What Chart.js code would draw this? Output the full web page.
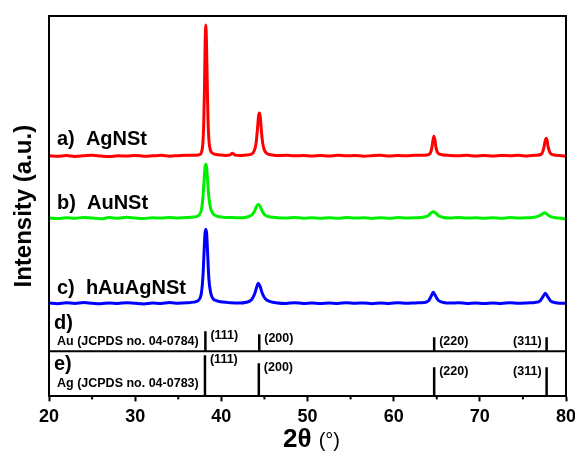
<!DOCTYPE html>
<html>
<head>
<meta charset="utf-8">
<script src="https://cdn.jsdelivr.net/npm/chart.js@4"></script>
<style>
  body { margin: 0; background: #fff; }
  #wrap { width: 575px; height: 452px; }
</style>
</head>
<body>
<div id="wrap"><canvas id="xrdChart" width="575" height="452"></canvas></div>
<script>
// 2theta / intensity (a.u., curves already offset)
const agX = [20, 21, 22, 23, 24, 25, 26, 27, 28, 29, 30, 31, 32, 33, 34, 35, 36, 37, 37.5, 37.7, 37.85, 37.95, 38.05, 38.12, 38.2, 38.28, 38.36, 38.45, 38.55, 38.7, 38.9, 39.2, 39.8, 40.5, 41.0, 41.3, 41.6, 42.2, 42.9, 43.5, 43.85, 44.05, 44.2, 44.32, 44.42, 44.52, 44.64, 44.8, 45.0, 45.3, 45.9, 46.5, 47.5, 48.5, 49.5, 50.5, 51.5, 52.5, 53.5, 54.5, 55.5, 56.5, 57.5, 58.5, 59.5, 60.5, 61.5, 62.5, 63.5, 64.15, 64.4, 64.55, 64.67, 64.77, 64.9, 65.1, 65.6, 66.5, 67.5, 68.5, 69.5, 70.5, 71.5, 72.5, 73.5, 74.5, 75.5, 76.5, 77.15, 77.42, 77.58, 77.7, 77.8, 77.93, 78.15, 78.6, 79.3, 80];
const agY = [240.5, 239.8, 240.6, 239.7, 240.3, 240.9, 240.2, 239.6, 240.4, 240.1, 240.7, 239.9, 240.3, 240.8, 240.0, 240.5, 240.9, 241.0, 241.5, 244, 252, 270, 310, 352, 371, 352, 315, 278, 257, 247, 243.5, 242, 241.2, 240.6, 241.2, 243, 241, 240.7, 241.2, 242, 246, 254, 268, 280, 283, 279, 266, 253, 246, 242.5, 241.2, 240.6, 240.9, 240.3, 240.7, 240.1, 240.6, 240.2, 240.8, 240.3, 240.6, 240.0, 240.5, 240.8, 240.2, 240.6, 240.3, 240.8, 240.9, 242, 247, 255, 260, 257, 249, 243.5, 241.4, 240.7, 240.3, 240.8, 240.2, 240.6, 240.1, 240.7, 240.4, 240.8, 240.2, 240.9, 242, 248, 255, 258, 256, 249, 243.5, 241.2, 240.6, 239.8];

const auX = [20, 21, 22, 23, 24, 25, 26, 27, 28, 29, 30, 31, 32, 33, 34, 35, 36, 36.8, 37.4, 37.7, 37.88, 38.0, 38.1, 38.2, 38.3, 38.42, 38.55, 38.75, 39.0, 39.5, 40.2, 41, 42, 42.9, 43.5, 43.85, 44.1, 44.3, 44.5, 44.75, 45.1, 45.7, 46.5, 47.5, 48.5, 49.5, 50.5, 51.5, 52.5, 53.5, 54.5, 55.5, 56.5, 57.5, 58.5, 59.5, 60.5, 61.5, 62.5, 63.4, 64.0, 64.3, 64.6, 64.9, 65.2, 65.8, 66.5, 67.5, 68.5, 69.5, 70.5, 71.5, 72.5, 73.5, 74.5, 75.5, 76.3, 76.9, 77.3, 77.55, 77.8, 78.2, 78.8, 79.4, 80];
const auY = [178.4, 177.6, 178.5, 177.9, 178.8, 178.1, 177.5, 178.6, 178.0, 178.9, 178.2, 177.7, 178.5, 178.1, 178.8, 178.3, 178.6, 179.2, 181, 187, 200, 216, 228, 232, 228, 214, 199, 188, 183, 180, 179, 178.7, 178.4, 179, 181, 185, 190, 192, 190, 185, 181, 179.2, 178.5, 178.1, 178.7, 178.0, 178.5, 177.9, 178.4, 178.0, 178.6, 178.1, 178.5, 177.8, 178.4, 178.0, 178.6, 178.2, 178.5, 179, 180.5, 183, 184.5, 183, 180.5, 178.8, 178.3, 178.7, 178.1, 178.5, 177.9, 178.4, 178.0, 178.6, 178.2, 178.5, 178.9, 180.3, 182.5, 183.5, 182, 179.5, 178.5, 178, 177.2];

const auAgX = [20, 21, 22, 23, 24, 25, 26, 27, 28, 29, 30, 31, 32, 33, 34, 35, 36, 36.8, 37.4, 37.7, 37.88, 38.0, 38.1, 38.2, 38.3, 38.42, 38.55, 38.75, 39.0, 39.5, 40.2, 41, 42, 42.9, 43.5, 43.85, 44.1, 44.3, 44.5, 44.75, 45.1, 45.7, 46.5, 47.5, 48.5, 49.5, 50.5, 51.5, 52.5, 53.5, 54.5, 55.5, 56.5, 57.5, 58.5, 59.5, 60.5, 61.5, 62.5, 63.5, 64.05, 64.35, 64.6, 64.85, 65.2, 65.8, 66.5, 67.5, 68.5, 69.5, 70.5, 71.5, 72.5, 73.5, 74.5, 75.5, 76.4, 77.0, 77.35, 77.6, 77.85, 78.2, 78.8, 79.4, 80];
const auAgY = [93.3, 92.6, 93.5, 92.9, 93.8, 93.1, 92.5, 93.4, 92.8, 93.6, 93.0, 92.4, 93.3, 92.9, 93.7, 93.1, 93.5, 94.2, 96.5, 104, 122, 145, 162, 167, 162, 141, 118, 104, 98, 95.5, 94.2, 93.6, 93.2, 94, 96.5, 102, 109, 113, 110, 103, 97.5, 94.6, 93.4, 92.9, 93.6, 92.8, 93.4, 92.7, 93.3, 92.9, 93.6, 93.0, 93.4, 92.6, 93.3, 92.9, 93.5, 93.0, 93.4, 93.8, 95.5, 100, 104, 100.5, 95.8, 93.8, 93.2, 93.6, 92.9, 93.4, 92.8, 93.3, 92.9, 93.5, 93.0, 93.4, 93.9, 95.5, 100, 103, 100, 95.5, 93.6, 93.1, 92.9];

// reference patterns (stick lines)
const hklLabels = ['(111)', '(200)', '(220)', '(311)'];
const auRefPos = [38.15, 44.4, 64.7, 77.75];
const auRefInt = [20, 17, 14, 14];
const agRefPos = [38.1, 44.35, 64.7, 77.75];
const agRefInt = [41, 33, 29, 29];
const auRefBase = 45;
const agRefBase = 0;

const xTicks = [20, 30, 40, 50, 60, 70, 80];
const xMinorTicks = [25, 35, 45, 55, 65, 75];

function toPoints(xs, ys) {
    return xs.map((x, i) => ({ x: x, y: ys[i] }));
}

function stickPoints(pos, ints, base) {
    const pts = [];
    pos.forEach((p, i) => {
        pts.push({ x: p, y: base });
        pts.push({ x: p, y: base + ints[i] });
        pts.push({ x: p, y: null });
    });
    return pts;
}

const FONT = '"Liberation Sans", Arial, sans-serif';

const labelsPlugin = {
    id: 'labels',
    afterDraw(chart) {
        const { ctx, chartArea: a, scales: { x, y } } = chart;
        ctx.save();
        // frame
        ctx.strokeStyle = '#000';
        ctx.lineWidth = 2;
        ctx.beginPath();
        ctx.moveTo(a.left, a.bottom);
        ctx.lineTo(a.left, a.top);
        ctx.lineTo(a.right, a.top);
        ctx.lineTo(a.right, a.bottom);
        ctx.stroke();

        // minor ticks
        xMinorTicks.forEach(v => {
            const px = x.getPixelForValue(v);
            ctx.beginPath();
            ctx.moveTo(px, a.bottom);
            ctx.lineTo(px, a.bottom + 3);
            ctx.stroke();
        });

        ctx.fillStyle = '#000';
        ctx.textBaseline = 'middle';
        ctx.textAlign = 'left';
        const lx = a.left + 8;
        ctx.font = 'bold 20px ' + FONT;
        ctx.fillText('a)  AgNSt', lx, y.getPixelForValue(257));
        ctx.fillText('b)  AuNSt', lx, y.getPixelForValue(193));
        ctx.fillText('c)  hAuAgNSt', lx, y.getPixelForValue(108));
        ctx.font = 'bold 20px ' + FONT;
        ctx.fillText('d)', a.left + 5, y.getPixelForValue(73));
        ctx.fillText('e)', a.left + 5, y.getPixelForValue(32));
        ctx.font = 'bold 12.5px ' + FONT;
        ctx.fillText('Au (JCPDS no. 04-0784)', lx, y.getPixelForValue(55));
        ctx.fillText('Ag (JCPDS no. 04-0783)', lx, y.getPixelForValue(13));

        // hkl labels
        ctx.font = 'bold 12.5px ' + FONT;
        ctx.textBaseline = 'top';
        [[auRefPos, auRefInt, auRefBase], [agRefPos, agRefInt, agRefBase]].forEach(([pos, ints, base]) => {
            pos.forEach((p, i) => {
                const px = x.getPixelForValue(p);
                const py = y.getPixelForValue(base + ints[i]) - 2;
                if (i === 3) {
                    ctx.textAlign = 'right';
                    ctx.fillText(hklLabels[i], px - 5, py);
                } else {
                    ctx.textAlign = 'left';
                    ctx.fillText(hklLabels[i], px + 5, py);
                }
            });
        });

        // axis titles
        ctx.textBaseline = 'middle';
        ctx.textAlign = 'left';
        const cx = (a.left + a.right) / 2;
        ctx.font = 'bold 26px ' + FONT;
        const w1 = ctx.measureText('2θ ').width;
        ctx.font = '20px ' + FONT;
        const w2 = ctx.measureText('(°)').width;
        const sx = cx - (w1 + w2) / 2 + 4;
        ctx.font = 'bold 26px ' + FONT;
        ctx.fillText('2θ ', sx, 440);
        ctx.font = '20px ' + FONT;
        ctx.fillText('(°)', sx + w1, 441);

        ctx.translate(24, (a.top + a.bottom) / 2);
        ctx.rotate(-Math.PI / 2);
        ctx.textAlign = 'center';
        ctx.font = 'bold 24px ' + FONT;
        ctx.fillText('Intensity (a.u.)', 0, 0);
        ctx.restore();
    }
};

const lineStyle = { showLine: true, pointRadius: 0, borderWidth: 3, cubicInterpolationMode: 'monotone', spanGaps: false };
const stickStyle = { showLine: true, pointRadius: 0, borderWidth: 2.5, borderColor: '#000', spanGaps: false };

new Chart(document.getElementById('xrdChart').getContext('2d'), {
    type: 'scatter',
    data: {
        datasets: [
            { label: 'AgNSt', data: toPoints(agX, agY), borderColor: '#ff0000', ...lineStyle },
            { label: 'AuNSt', data: toPoints(auX, auY), borderColor: '#00ee00', ...lineStyle },
            { label: 'hAuAgNSt', data: toPoints(auAgX, auAgY), borderColor: '#0000ff', ...lineStyle },
            { label: 'Au ref', data: stickPoints(auRefPos, auRefInt, auRefBase), ...stickStyle },
            { label: 'Ag ref', data: stickPoints(agRefPos, agRefInt, agRefBase), ...stickStyle },
            { label: 'divider', data: [{ x: 20, y: auRefBase }, { x: 80, y: auRefBase }], borderColor: '#000', showLine: true, pointRadius: 0, borderWidth: 2 }
        ]
    },
    options: {
        responsive: false,
        animation: false,
        layout: { padding: { left: 49, right: 9, top: 16, bottom: 19 } },
        plugins: { legend: { display: false }, tooltip: { enabled: false } },
        scales: {
            x: {
                type: 'linear', min: 20, max: 80,
                afterBuildTicks: (scale) => { scale.ticks = xTicks.map(v => ({ value: v })); },
                afterFit: (scale) => { scale.paddingLeft = 0; scale.paddingRight = 0; },
                ticks: { color: '#000', font: { family: FONT, size: 18, weight: 'bold' }, padding: 5, maxRotation: 0 },
                grid: { drawOnChartArea: false, drawTicks: true, tickLength: 5, tickWidth: 2, tickColor: '#000' },
                border: { display: true, color: '#000', width: 2 }
            },
            y: { type: 'linear', min: 0, max: 380, display: false }
        }
    },
    plugins: [labelsPlugin]
});
</script>
</body>
</html>
